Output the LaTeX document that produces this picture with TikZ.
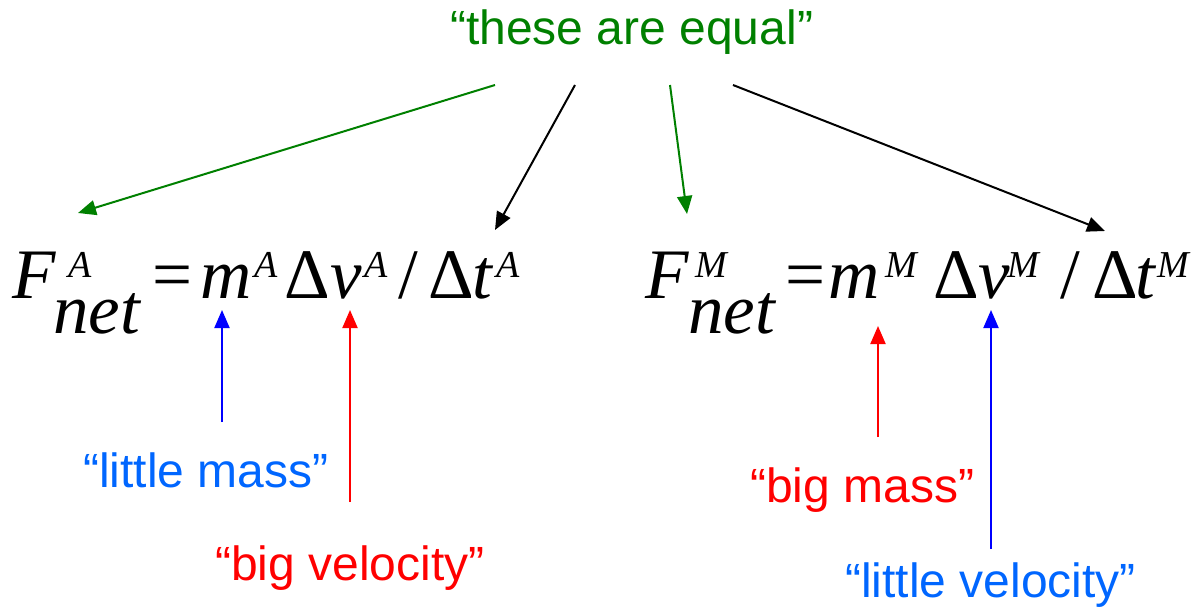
\documentclass[tikz,border=0pt]{standalone}
\usepackage{fontspec}
\setmainfont{Liberation Serif}
\newfontfamily\labelfont{Liberation Sans}
\usetikzlibrary{arrows.meta}
\definecolor{eqgreen}{RGB}{0,128,0}
\definecolor{lblblue}{RGB}{0,102,255}
\definecolor{arrblue}{RGB}{0,0,255}
\definecolor{arrred}{RGB}{255,0,0}
\tikzset{
  eqit/.style={inner sep=0pt, anchor=base west, font=\fontsize{71}{80}\selectfont\itshape},
  equp/.style={inner sep=0pt, anchor=base west, font=\fontsize{71}{80}\selectfont\upshape},
  eqsup/.style={inner sep=0pt, anchor=base west, font=\fontsize{38}{42}\selectfont\itshape},
  lbl/.style={inner sep=0pt, anchor=base west, font=\labelfont\fontsize{48}{56}\selectfont},
  arr/.style={line width=2pt, -{Triangle[length=18pt,width=15pt]}}
}
\begin{document}
\begin{tikzpicture}[x=1pt,y=-1pt]
\useasboundingbox (0,0) rectangle (1198,607);
% top label
\node[lbl, text=eqgreen] (equal) at (450,45) {“these are equal”};
% left equation
\node[eqit] (aF) at (12,298) {F};
\node[eqsup] (aFs) at (68,277) {A};
\node[eqit] (anet) at (53,333) {net};
\node[equp] (aeq) at (152,298) {=};
\node[eqit] (am) at (200,298) {m};
\node[eqsup] (ams) at (254,277) {A};
\node[equp] (aD1) at (284,298) {Δ};
\node[eqit] (av) at (330,298) {v};
\node[eqsup] (avs) at (364,277) {A};
\node[equp] (asl) at (398,298) {/};
\node[equp] (aD2) at (428,298) {Δ};
\node[eqit] (at) at (472,298) {t};
\node[eqsup] (ats) at (496,277) {A};
% right equation
\node[eqit] (bF) at (645,298) {F};
\node[eqsup] (bFs) at (695,277) {M};
\node[eqit] (bnet) at (688,333) {net};
\node[equp] (beq) at (785,298) {=};
\node[eqit] (bm) at (828,298) {m};
\node[eqsup] (bms) at (885,277) {M};
\node[equp] (bD1) at (933,298) {Δ};
\node[eqit] (bv) at (978,298) {v};
\node[eqsup] (bvs) at (1007,277) {M};
\node[equp] (bsl) at (1060,298) {/};
\node[equp] (bD2) at (1092,298) {Δ};
\node[eqit] (bt) at (1135,298) {t};
\node[eqsup] (bts) at (1157,277) {M};
% bottom labels
\node[lbl, text=lblblue] (lmass) at (83,487) {“little mass”};
\node[lbl, text=arrred] (bvel) at (215,580) {“big velocity”};
\node[lbl, text=arrred] (bmass) at (750,502) {“big mass”};
\node[lbl, text=lblblue] (lvel) at (845,597) {“little velocity”};
% arrow end points
\coordinate (g1s) at (495,85);
\coordinate (g1e) at (78,213);
\coordinate (k1s) at (575,85);
\coordinate (k1e) at (495,230);
\coordinate (g2s) at (670,85);
\coordinate (g2e) at (687,214);
\coordinate (k2s) at (733,85);
\coordinate (k2e) at (1105,231);
\coordinate (lms) at (222,422);
\coordinate (lme) at (222,310);
\coordinate (bvs0) at (350,502);
\coordinate (bve) at (350,310);
\coordinate (bms0) at (878,437);
\coordinate (bme) at (878,326);
\coordinate (lvs) at (991,549);
\coordinate (lve) at (991,310);
% arrows
\draw[arr, eqgreen] (g1s) -- (g1e);
\draw[arr, black] (k1s) -- (k1e);
\draw[arr, eqgreen] (g2s) -- (g2e);
\draw[arr, black] (k2s) -- (k2e);
\draw[arr, arrblue] (lms) -- (lme);
\draw[arr, arrred] (bvs0) -- (bve);
\draw[arr, arrred] (bms0) -- (bme);
\draw[arr, arrblue] (lvs) -- (lve);
\end{tikzpicture}
\end{document}
